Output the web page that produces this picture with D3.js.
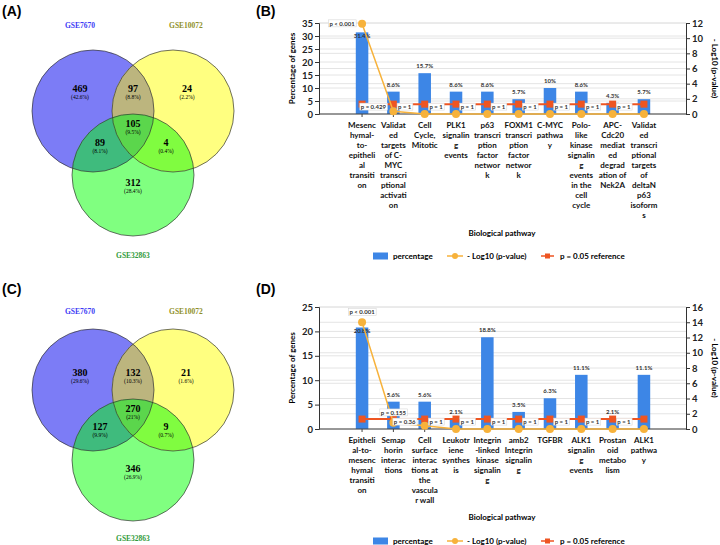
<!DOCTYPE html>
<html>
<head>
<meta charset="utf-8">
<script src="https://cdn.jsdelivr.net/npm/d3@7"></script>
<style>
  body { margin: 0; background: #fff; }
  svg { display: block; }
  text { font-family: Lato, "Open Sans", sans-serif; }
</style>
</head>
<body>
<svg id="fig" width="720" height="545"></svg>
<script>
// ---- Venn data ----
const vennSets = ["GSE7670", "GSE10072", "GSE32863"];
// region order: only 7670, 7670&10072, only 10072, all three, 7670&32863, 10072&32863, only 32863
const vennCountsA = [469, 97, 24, 105, 89, 4, 312];
const vennPctA = ["42.6%", "8.8%", "2.2%", "9.5%", "8.1%", "0.4%", "28.4%"];
const vennCountsC = [380, 132, 21, 270, 127, 9, 346];
const vennPctC = ["29.6%", "10.3%", "1.6%", "21%", "9.9%", "0.7%", "26.9%"];

// ---- Pathway data, panel B ----
const pathwaysB = [
  ["Mesenc", "hymal-", "to-", "epitheli", "al", "transiti", "on"],
  ["Validat", "ed", "targets", "of C-", "MYC", "transcri", "ptional", "activati", "on"],
  ["Cell", "Cycle,", "Mitotic"],
  ["PLK1", "signalin", "g", "events"],
  ["p63", "transcri", "ption", "factor", "networ", "k"],
  ["FOXM1", "transcri", "ption", "factor", "networ", "k"],
  ["C-MYC", "pathwa", "y"],
  ["Polo-", "like", "kinase", "signalin", "g", "events", "in the", "cell", "cycle"],
  ["APC-", "Cdc20", "mediat", "ed", "degrad", "ation of", "Nek2A"],
  ["Validat", "ed", "transcri", "ptional", "targets", "of", "deltaN", "p63", "isoform", "s"]
];
const percentB = [31.4, 8.6, 15.7, 8.6, 8.6, 5.7, 10, 8.6, 4.3, 5.7];
const logPB = [11.9, 0.37, 0, 0, 0, 0, 0, 0, 0, 0];
const pLabelB = ["p < 0.001", "p = 0.429", "p = 1", "p = 1", "p = 1", "p = 1", "p = 1", "p = 1", "p = 1", "p = 1"];

// ---- Pathway data, panel D ----
const pathwaysD = [
  ["Epitheli", "al-to-", "mesenc", "hymal", "transiti", "on"],
  ["Semap", "horin", "interac", "tions"],
  ["Cell", "surface", "interac", "tions at", "the", "vascula", "r wall"],
  ["Leukotr", "iene", "synthes", "is"],
  ["Integrin", "-linked", "kinase", "signalin", "g"],
  ["amb2", "Integrin", "signalin", "g"],
  ["TGFBR"],
  ["ALK1", "signalin", "g", "events"],
  ["Prostan", "oid", "metabo", "lism"],
  ["ALK1", "pathwa", "y"]
];
const percentD = [20.8, 5.6, 5.6, 2.1, 18.8, 3.5, 6.3, 11.1, 2.1, 11.1];
const logPD = [14.0, 0.81, 0.44, 0, 0, 0, 0, 0, 0, 0];
const pLabelD = ["p < 0.001", "p = 0.155", "p = 0.36", "p = 1", "p = 1", "p = 1", "p = 1", "p = 1", "p = 1", "p = 1"];

const refLogP = -Math.log10(0.05);
const legendNames = ["percentage", "- Log10 (p-value)", "p = 0.05 reference"];

const BAR = "#3d86e6", ORANGE = "#f7b23b", RED = "#ee5522";

const svg = d3.select("#fig");
const defs = svg.append("defs");

// panel letters
[["(A)", 2, 16], ["(B)", 256, 16], ["(C)", 2, 294], ["(D)", 256, 294]].forEach(d => {
  svg.append("text").text(d[0]).attr("x", d[1]).attr("y", d[2])
    .style("font-family", "'Liberation Sans', Arial, sans-serif")
    .style("font-weight", "bold").style("font-size", "14px");
});

function drawVenn(id, cfg) {
  const g = svg.append("g");
  const circles = cfg.centers.map((c, i) => ({ x: c[0], y: c[1], r: cfg.r, i }));
  circles.forEach(c => {
    defs.append("clipPath").attr("id", `${id}c${c.i}`)
      .append("circle").attr("cx", c.x).attr("cy", c.y).attr("r", c.r);
  });
  const circ = (sel, c, fill) => sel.append("circle")
    .attr("cx", c.x).attr("cy", c.y).attr("r", c.r).attr("fill", fill);

  // single sets
  circ(g, circles[0], "#7c7cf6");
  circ(g, circles[2], "#80ff80");
  circ(g, circles[1], "#ffff80");
  // pairwise
  circ(g, circles[1], "#bcb57e").attr("clip-path", `url(#${id}c0)`);
  circ(g, circles[2], "#3fbb7d").attr("clip-path", `url(#${id}c0)`);
  circ(g, circles[2], "#80fc40").attr("clip-path", `url(#${id}c1)`);
  // triple
  circ(g.append("g").attr("clip-path", `url(#${id}c0)`), circles[2], "#5bd64c")
    .attr("clip-path", `url(#${id}c1)`);
  // outlines
  g.append("g").selectAll("circle").data(circles).join("circle")
    .attr("cx", d => d.x).attr("cy", d => d.y).attr("r", d => d.r)
    .attr("fill", "none").attr("stroke", "#333").attr("stroke-width", 0.7);

  const serif = "'Liberation Serif', 'Times New Roman', serif";
  g.append("g").selectAll("text").data(cfg.counts).join("text")
    .attr("x", (d, i) => cfg.labels[i][0]).attr("y", (d, i) => cfg.labels[i][1] - 1.5)
    .attr("dy", "0.35em").attr("text-anchor", "middle")
    .style("font-family", serif).style("font-weight", "bold").style("font-size", "10px")
    .text(d => d);
  g.append("g").selectAll("text").data(cfg.pct).join("text")
    .attr("x", (d, i) => cfg.labels[i][0]).attr("y", (d, i) => cfg.labels[i][1] + 7.5)
    .attr("dy", "0.35em").attr("text-anchor", "middle")
    .style("font-family", serif).style("font-size", "5.5px")
    .text(d => `(${d})`);
  const titleCol = ["#3b3bf5", "#8f8f2a", "#2f9a3a"];
  g.append("g").selectAll("text").data(vennSets).join("text")
    .attr("x", (d, i) => cfg.titles[i][0]).attr("y", (d, i) => cfg.titles[i][1])
    .attr("dy", "0.35em").attr("text-anchor", "middle")
    .style("font-family", serif).style("font-weight", "bold").style("font-size", "7.5px")
    .attr("fill", (d, i) => titleCol[i])
    .text(d => d);
}

drawVenn("va", {
  centers: [[93, 111], [173, 111], [133, 175]], r: 61,
  counts: vennCountsA, pct: vennPctA,
  labels: [[80, 90], [133, 90], [187, 90], [133, 125], [100, 144], [166, 144], [133, 184]],
  titles: [[80, 25], [186, 25], [133, 255]]
});
drawVenn("vc", {
  centers: [[93, 390], [173, 390], [133, 460]], r: 61,
  counts: vennCountsC, pct: vennPctC,
  labels: [[80, 374], [133, 374], [186, 374], [133, 410], [100, 428], [166, 428], [133, 470]],
  titles: [[80, 311], [186, 311], [133, 538]]
});

function drawCombo(cfg) {
  const g = svg.append("g");
  const L = 319, R = 686;
  const idx = cfg.cats.map((d, i) => i);
  const x = d3.scaleBand().domain(idx).range([L + 18, R - 17]).padding(0.6);
  const cx = i => x(i) + x.bandwidth() / 2;
  const yL = d3.scaleLinear().domain([0, cfg.leftMax]).range([cfg.bottom, cfg.top]);
  const yR = d3.scaleLinear().domain([0, cfg.rightMax]).range([cfg.bottom, cfg.top]);

  // gridlines
  g.append("g").selectAll("line")
    .data(yL.ticks(cfg.leftMax / 5).map(yL).concat(yR.ticks(cfg.rightMax / 2).map(yR)))
    .join("line")
    .attr("x1", L).attr("x2", R).attr("y1", d => d).attr("y2", d => d)
    .attr("stroke", "#e4e4e4").attr("stroke-width", 1);

  // bars
  g.append("g").selectAll("rect").data(cfg.percent).join("rect")
    .attr("x", (d, i) => x(i)).attr("width", x.bandwidth())
    .attr("y", d => yL(d)).attr("height", d => yL(0) - yL(d))
    .attr("fill", BAR);

  // axes
  const axL = g.append("g").attr("transform", `translate(${L},0)`)
    .call(d3.axisLeft(yL).ticks(cfg.leftMax / 5).tickSize(4).tickPadding(2));
  const axR = g.append("g").attr("transform", `translate(${R},0)`)
    .call(d3.axisRight(yR).ticks(cfg.rightMax / 2).tickSize(4).tickPadding(2));
  [axL, axR].forEach(a => {
    a.select(".domain").attr("stroke", "#333");
    a.selectAll(".tick line").attr("stroke", "#333");
    a.selectAll("text").style("font-family", "Lato, sans-serif")
      .style("font-weight", "bold").style("font-size", "9.5px").attr("fill", "#222");
  });
  g.append("line").attr("x1", L).attr("x2", R)
    .attr("y1", cfg.bottom).attr("y2", cfg.bottom).attr("stroke", "#444");
  g.append("g").selectAll("line").data(idx).join("line")
    .attr("x1", cx).attr("x2", cx).attr("y1", cfg.bottom).attr("y2", cfg.bottom + 3)
    .attr("stroke", "#444");

  // percent labels
  g.append("g").selectAll("text").data(cfg.percent).join("text")
    .attr("x", (d, i) => cx(i))
    .attr("y", (d, i) => yL(d) + (i === 0 ? 6 : -5))
    .attr("text-anchor", "middle")
    .style("font-size", "6px").style("font-weight", "bold").attr("fill", "#333")
    .text(d => d + "%");

  // reference line
  const refLine = d3.line().x((d, i) => cx(i)).y(() => yR(refLogP));
  g.append("path").datum(idx).attr("d", refLine)
    .attr("fill", "none").attr("stroke", RED).attr("stroke-width", 2);
  g.append("g").selectAll("rect").data(idx).join("rect")
    .attr("x", i => cx(i) - 3.5).attr("y", yR(refLogP) - 3.5)
    .attr("width", 7).attr("height", 7).attr("fill", RED);

  // -log10 p line
  const pLine = d3.line().x((d, i) => cx(i)).y(d => yR(d));
  g.append("path").datum(cfg.logP).attr("d", pLine)
    .attr("fill", "none").attr("stroke", ORANGE).attr("stroke-width", 1.5);
  g.append("g").selectAll("circle").data(cfg.logP).join("circle")
    .attr("cx", (d, i) => cx(i)).attr("cy", d => yR(d)).attr("r", 4)
    .attr("fill", ORANGE);

  // p-value labels
  const pl = g.append("g").selectAll("g").data(cfg.pLabels).join("g")
    .attr("transform", (d, i) => {
      const px = cx(i), py = yR(cfg.logP[i]);
      if (cfg.pPlace[i] === "above") return `translate(${px},${py - 10})`;
      return `translate(${px - 20},${Math.min(py, cfg.bottom - 7)})`;
    });
  pl.append("text").attr("text-anchor", "middle").attr("dy", "0.35em")
    .style("font-size", "6px").style("font-weight", "bold").attr("fill", "#333")
    .text(d => d);
  pl.each(function () {
    const b = d3.select(this).select("text").node().getBBox();
    d3.select(this).insert("rect", "text")
      .attr("x", b.x - 1).attr("y", b.y).attr("width", b.width + 2).attr("height", b.height)
      .attr("fill", "#fff").attr("stroke", "#d0d0d0").attr("stroke-width", 0.5);
  });

  // category labels
  const cl = g.append("g").selectAll("text").data(cfg.cats).join("text")
    .attr("text-anchor", "middle")
    .style("font-size", "8px").style("font-weight", "bold").attr("fill", "#111");
  cl.selectAll("tspan").data((d, i) => d.map(s => ({ s, i }))).join("tspan")
    .attr("x", d => cx(d.i)).attr("y", (d, j) => cfg.bottom + 14 + j * 10)
    .text(d => d.s);

  // axis titles
  const mid = (cfg.top + cfg.bottom) / 2;
  g.append("text").attr("transform", `translate(295,${mid}) rotate(-90)`)
    .attr("text-anchor", "middle")
    .style("font-size", "8px").style("font-weight", "bold").text("Percentage of genes");
  g.append("text").attr("transform", `translate(712,${mid}) rotate(90)`)
    .attr("text-anchor", "middle")
    .style("font-size", "8px").style("font-weight", "bold").text("- Log10 (p-value)");
  g.append("text").attr("x", 502).attr("y", cfg.xTitleY).attr("text-anchor", "middle")
    .style("font-size", "8px").style("font-weight", "bold").text("Biological pathway");

  // legend
  const ly = cfg.legendY;
  const lg = g.append("g").selectAll("g").data(legendNames).join("g")
    .attr("transform", (d, i) => `translate(${[373, 447, 541][i]},${ly})`);
  lg.filter((d, i) => i === 0).append("rect")
    .attr("x", 0).attr("y", -3.5).attr("width", 15).attr("height", 7).attr("fill", BAR);
  lg.filter((d, i) => i === 1).call(s => {
    s.append("line").attr("x1", 0).attr("x2", 16).attr("stroke", ORANGE).attr("stroke-width", 1.5);
    s.append("circle").attr("cx", 8).attr("r", 3).attr("fill", ORANGE);
  });
  lg.filter((d, i) => i === 2).call(s => {
    s.append("line").attr("x1", 0).attr("x2", 13).attr("stroke", RED).attr("stroke-width", 1.5);
    s.append("rect").attr("x", 4).attr("y", -2.5).attr("width", 5).attr("height", 5).attr("fill", RED);
  });
  lg.append("text").attr("x", (d, i) => [20, 20, 19][i]).attr("dy", "0.35em")
    .style("font-size", "8px").style("font-weight", "bold").text(d => d);
}

drawCombo({
  cats: pathwaysB, percent: percentB, logP: logPB, pLabels: pLabelB,
  pPlace: pLabelB.map(() => "left"),
  leftMax: 35, rightMax: 12, top: 23, bottom: 114,
  xTitleY: 236, legendY: 256
});
drawCombo({
  cats: pathwaysD, percent: percentD, logP: logPD, pLabels: pLabelD,
  pPlace: pLabelD.map((d, i) => i < 2 ? "above" : "left"),
  leftMax: 25, rightMax: 16, top: 307, bottom: 429,
  xTitleY: 520, legendY: 541
});
</script>
</body>
</html>
